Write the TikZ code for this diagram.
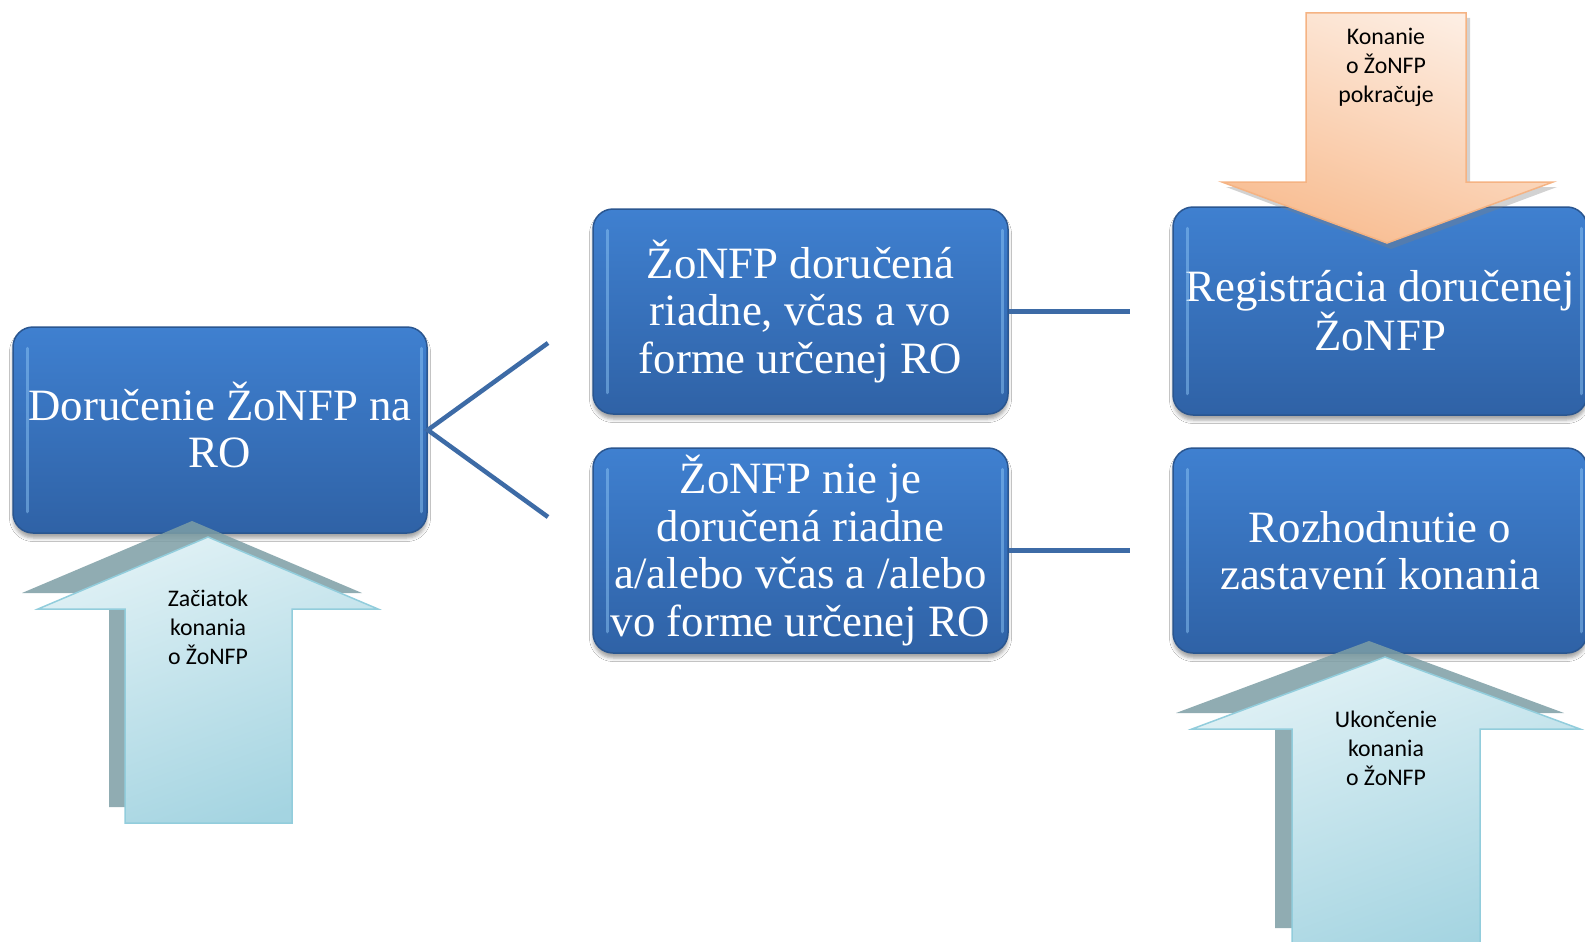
\documentclass[tikz,border=0pt]{standalone}
\usepackage{fontspec}
\usetikzlibrary{shadows.blur}
\newfontfamily\boxfont{Liberation Serif}
\newfontfamily\arrfont{Carlito}
\definecolor{boxtop}{HTML}{3F80D0}
\definecolor{boxbot}{HTML}{2F62A6}
\definecolor{boxedge}{HTML}{2A5690}
\definecolor{hlcol}{HTML}{8CC4F4}
\definecolor{linec}{HTML}{3D6BA6}
\definecolor{ltblue}{HTML}{E0F1F5}
\definecolor{mdblue}{HTML}{A4D4E1}
\definecolor{arrowedge}{HTML}{92CDDC}
\definecolor{arshadow}{HTML}{7D9EA5}
\definecolor{orlight}{HTML}{FDEEE3}
\definecolor{ordark}{HTML}{F8BC90}
\definecolor{oredge}{HTML}{F5B383}
\tikzset{
  boxtext/.style={text=white, font=\boxfont\fontsize{44.8}{47.5}\selectfont, align=center, inner sep=0pt},
  box/.style={rounded corners=20pt, draw=boxedge, line width=1.5pt,
    top color=boxtop, bottom color=boxbot, boxtext,
    blur shadow={shadow xshift=0pt, shadow yshift=-5pt, shadow blur radius=3.5pt, shadow opacity=35}},
  hl/.style={line width=3pt, hlcol, opacity=0.5, line cap=round},
  conn/.style={linec, line width=4.5pt},
  upshadow/.style={fill=arshadow, opacity=0.85},
  uparrow/.style={draw=arrowedge, line width=1.5pt, top color=ltblue, bottom color=mdblue, shading angle=20},
  downarrow/.style={draw=oredge, line width=1.5pt, top color=orlight, bottom color=ordark, shading angle=-20},
  arrtext/.style={font=\arrfont\fontsize{23.8}{29}\selectfont, text=black, align=center, inner sep=0pt}
}
\newcommand\boxhl[1]{%
  \draw[hl] ([xshift=15pt,yshift=-22pt]#1.north west) -- ([xshift=15pt,yshift=22pt]#1.south west);
  \draw[hl] ([xshift=-6pt,yshift=-22pt]#1.north east) -- ([xshift=-6pt,yshift=22pt]#1.south east);
}
\begin{document}
\begin{tikzpicture}[x=1pt,y=-1pt]
\useasboundingbox (0,0) rectangle (1585,942);
\fill[white] (0,0) rectangle (1585,942);

% boxes
\node[box, minimum width=414pt, minimum height=206pt] (b1) at (220,430) {};
\node[boxtext] (b1t) at (220,425) {Doručenie ŽoNFP na\\RO};
\node[box, minimum width=415pt, minimum height=205pt] (b2) at (800.5,311.5) {ŽoNFP doručená\\riadne, včas a vo\\forme určenej RO};
\node[box, minimum width=415pt, minimum height=205pt] (b3) at (800.5,550.5) {ŽoNFP nie je\\doručená riadne\\a/alebo včas a /alebo\\vo forme určenej RO};
\node[box, minimum width=414pt, minimum height=208pt] (b4) at (1380,311) {Registrácia doručenej\\ŽoNFP};
\node[box, minimum width=414pt, minimum height=205pt] (b5) at (1380,550.5) {Rozhodnutie o\\zastavení konania};
\boxhl{b1}\boxhl{b2}\boxhl{b3}\boxhl{b4}\boxhl{b5}

% connectors
\coordinate (c1) at (548,343);
\coordinate (c2) at (548,517);
\coordinate (c3) at (1130,311.5);
\coordinate (c4) at (1130,550.5);
\draw[conn, line join=miter] (c1) -- (b1.east) -- (c2);
\draw[conn] (b2.east) -- (c3);
\draw[conn] (b3.east) -- (c4);

% left up arrow
\fill[upshadow] (192,521) -- (362,593) -- (276,593) -- (276,807) -- (109,807) -- (109,593) -- (22,593) -- cycle;
\path[uparrow] (208,537) -- (378,609) -- (292,609) -- (292,823) -- (125,823) -- (125,609) -- (38,609) -- cycle;
\node[arrtext] (t1) at (208,627) {Začiatok\\konania\\o ŽoNFP};

% right up arrow
\fill[upshadow] (1369,641) -- (1564,713) -- (1464,713) -- (1464,928) -- (1275,928) -- (1275,713) -- (1176,713) -- cycle;
\path[uparrow] (1385,657) -- (1580,729) -- (1480,729) -- (1480,950) -- (1292,950) -- (1292,729) -- (1192,729) -- cycle;
\node[arrtext] (t2) at (1386,748) {Ukončenie\\konania\\o ŽoNFP};

% down arrow
\fill[gray, opacity=0.35] (1310,18) -- (1470,18) -- (1470,187) -- (1557,187) -- (1391,249) -- (1226,187) -- (1310,187) -- cycle;
\path[downarrow] (1306,13) -- (1466,13) -- (1466,182) -- (1553,182) -- (1387,243) -- (1222,182) -- (1306,182) -- cycle;
\node[arrtext] (t3) at (1386,67) {Konanie\\o ŽoNFP\\pokračuje};
\end{tikzpicture}
\end{document}
